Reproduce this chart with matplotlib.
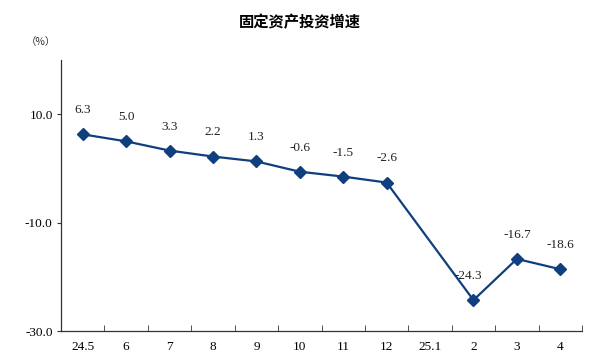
import matplotlib.pyplot as plt
import numpy as np

plt.rcParams['font.family'] = ['Noto Sans CJK SC', 'DejaVu Sans']

# x categories and growth values (25.1 has no data)
months = ["24.5", "6", "7", "8", "9", "10", "11", "12", "25.1", "2", "3", "4"]
growth = [6.3, 5.0, 3.3, 2.2, 1.3, -0.6, -1.5, -2.6, None, -24.3, -16.7, -18.6]
label_dx = [0, 0, 0, 0, 0, 0, 0, 0, 0, -4, 0, 0]

line_color = "#0f3f7e"
num_font = "Liberation Serif"

fig = plt.figure(figsize=(6, 3.62), dpi=100)
ax = fig.add_axes([0.1017, 0.0856, 0.8683, 0.7484])

xs = [i for i, v in enumerate(growth) if v is not None]
ys = [v for v in growth if v is not None]
ax.plot(xs, ys, color=line_color, linewidth=1.6, marker="D", markersize=6.5,
        markerfacecolor=line_color, markeredgecolor=line_color)

for x, y in zip(xs, ys):
    ax.annotate("%.1f" % y, (x, y), xytext=(label_dx[x], 13), textcoords="offset points",
                ha="center", va="bottom", fontsize=9.5, family=num_font, color="#222222")

ax.set_xlim(-0.5, len(months) - 0.5)
ax.set_ylim(-30, 20)
ax.set_yticks([-30, -10, 10])
ax.set_yticklabels(["-30.0", "-10.0", "10.0"], family=num_font, fontsize=9.5)

# category labels centered, tick marks between categories
ax.set_xticks(np.arange(len(months)))
ax.set_xticklabels(months, family=num_font, fontsize=9.5)
ax.tick_params(axis="x", length=0, pad=7)
ax.set_xticks(np.arange(len(months)) + 0.5, minor=True)
ax.tick_params(axis="x", which="minor", direction="in", length=4, color="#333333")
ax.tick_params(axis="y", direction="out", length=3, color="#333333", pad=3)

for s in ["top", "right"]:
    ax.spines[s].set_visible(False)
for s in ["left", "bottom"]:
    ax.spines[s].set_color("#333333")
    ax.spines[s].set_linewidth(0.9)

fig.text(0.5, 0.94, "固定资产投资增速", ha="center", va="center", fontsize=11, fontweight="bold")
fig.text(0.068, 0.885, "（%）", ha="center", va="center", fontsize=7.5, color="#333333")

fig.savefig("out.png", dpi=100)
